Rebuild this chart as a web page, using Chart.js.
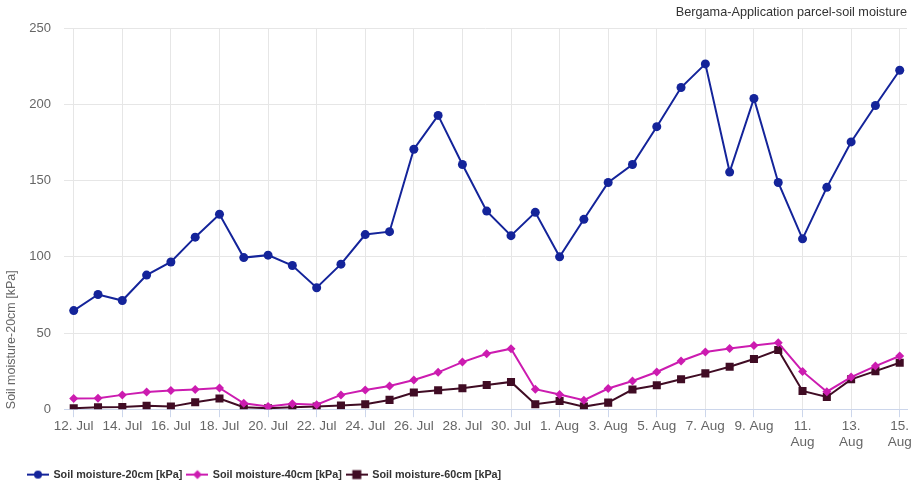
<!DOCTYPE html>
<html>
<head>
<meta charset="utf-8">
<script src="https://cdn.jsdelivr.net/npm/chart.js@4.4.0/dist/chart.umd.min.js"></script>
<style>
  html, body { margin: 0; padding: 0; background: #fff; }
  #wrap { width: 919px; height: 488px; }
</style>
</head>
<body>
<div id="wrap"><canvas id="chart" width="919" height="488"></canvas></div>
<script>
const days = [
  "12. Jul", "13. Jul", "14. Jul", "15. Jul", "16. Jul", "17. Jul", "18. Jul",
  "19. Jul", "20. Jul", "21. Jul", "22. Jul", "23. Jul", "24. Jul", "25. Jul",
  "26. Jul", "27. Jul", "28. Jul", "29. Jul", "30. Jul", "31. Jul",
  "1. Aug", "2. Aug", "3. Aug", "4. Aug", "5. Aug", "6. Aug", "7. Aug",
  "8. Aug", "9. Aug", "10. Aug", "11. Aug", "12. Aug", "13. Aug", "14. Aug", "15. Aug",
];

const moist20 = [64.7, 75.3, 71.3, 88, 96.6, 112.9, 127.9, 99.5, 101.1, 94.3, 79.7, 95.2,
  114.6, 116.5, 170.6, 192.8, 160.6, 130, 113.9, 129.2, 100, 124.6, 148.8, 160.6, 185.4,
  211.1, 226.6, 155.6, 203.9, 148.8, 111.8, 145.6, 175.4, 199.3, 222.4];
const moist40 = [7, 7.2, 9.4, 11.3, 12.2, 12.9, 13.9, 3.9, 1.7, 3.5, 3, 9.4, 12.6, 15.2,
  19.2, 24.2, 30.9, 36.4, 39.7, 13.1, 9.6, 5.9, 13.6, 18.5, 24.4, 31.6, 37.5, 39.9, 41.8,
  43.6, 24.8, 11.5, 21.1, 28.3, 34.9];
const moist60 = [0.6, 1.3, 1.5, 2.2, 1.7, 4.6, 7, 1.3, 0.6, 1.3, 1.7, 2.4, 3.3, 6.1, 10.9,
  12.4, 13.7, 15.9, 17.9, 3.3, 5.4, 1.7, 4.3, 12.9, 15.7, 19.6, 23.5, 27.9, 32.9, 38.8,
  12, 8, 19.6, 25, 30.5];

const yTicks = [0, 50, 100, 150, 200, 250];

const seriesNames = ["Soil moisture-20cm [kPa]", "Soil moisture-40cm [kPa]", "Soil moisture-60cm [kPa]"];
const colors = ["#14249a", "#cc1cb0", "#400c24"];
const styles = ["circle", "rectRot", "rect"];

const toPoints = (arr) => arr.map((v, i) => ({ x: i, y: v }));

// legend symbol: short line with the marker in the middle
function legendSymbol(color, style) {
  const c = document.createElement("canvas");
  c.width = 22;
  c.height = 12;
  const g = c.getContext("2d");
  g.strokeStyle = color;
  g.fillStyle = color;
  g.lineWidth = 2;
  g.beginPath();
  g.moveTo(0, 6);
  g.lineTo(22, 6);
  g.stroke();
  g.beginPath();
  if (style === "circle") {
    g.arc(11, 6, 4, 0, Math.PI * 2);
  } else if (style === "rectRot") {
    g.moveTo(11, 1.5);
    g.lineTo(15.5, 6);
    g.lineTo(11, 10.5);
    g.lineTo(6.5, 6);
    g.closePath();
  } else {
    g.rect(6.5, 1.5, 9, 9);
  }
  g.fill();
  return c;
}
const symbols = colors.map((c, i) => legendSymbol(c, styles[i]));

const legendShift = {
  id: "legendShift",
  afterLayout(chart) {
    chart.legend.left += 23;
  },
};

Chart.defaults.font.family = "'Liberation Sans', Arial, sans-serif";
Chart.defaults.color = "#666";

const ctx = document.getElementById("chart").getContext("2d");
new Chart(ctx, {
  type: "line",
  data: {
    datasets: [moist20, moist40, moist60].map((arr, i) => ({
      label: seriesNames[i],
      data: toPoints(arr),
      borderColor: colors[i],
      backgroundColor: colors[i],
      borderWidth: 2,
      pointStyle: styles[i],
      pointRadius: [4.5, 4.5, 5.7][i],
      pointBorderWidth: 0,
      tension: 0,
    })),
  },
  plugins: [legendShift],
  options: {
    responsive: false,
    animation: false,
    layout: { padding: { left: 0, right: 12, top: 0, bottom: -2 } },
    scales: {
      x: {
        type: "linear",
        min: -0.4,
        max: 34.3,
        afterBuildTicks: (s) => {
          s.ticks = days.map((d, i) => ({ value: i })).filter((t) => t.value % 2 === 0);
        },
        afterFit: (s) => { s.height = 55; },
        ticks: {
          autoSkip: false,
          maxRotation: 0,
          padding: 1,
          color: "#666",
          font: { size: 13.5 },
          callback: (v) => (v >= 30 ? days[v].split(" ") : days[v]),
        },
        grid: { color: "#e6e6e6", tickColor: "#ccd6eb", tickLength: 8 },
        border: { color: "#ccd6eb", width: 1 },
      },
      y: {
        min: 0,
        max: 250,
        afterBuildTicks: (s) => { s.ticks = yTicks.map((v) => ({ value: v })); },
        afterFit: (s) => { s.width = 64; },
        ticks: { padding: 13, color: "#666", font: { size: 13 } },
        grid: { color: "#e6e6e6", drawTicks: false },
        border: { display: false },
        title: {
          display: true,
          text: "Soil moisture-20cm [kPa]",
          align: "start",
          color: "#666",
          font: { size: 12.5 },
          padding: { top: 4, bottom: 0 },
        },
      },
    },
    plugins: {
      title: {
        display: true,
        text: "Bergama-Application parcel-soil moisture",
        align: "end",
        color: "#333",
        font: { size: 12.7, weight: "normal" },
        padding: { top: 5, bottom: 8 },
      },
      legend: {
        position: "bottom",
        align: "start",
        labels: {
          usePointStyle: true,
          pointStyleWidth: 20,
          padding: 5,
          color: "#333",
          font: { size: 10.8, weight: "bold" },
          generateLabels: (chart) =>
            Chart.defaults.plugins.legend.labels.generateLabels(chart).map((l, i) => ({
              ...l,
              pointStyle: symbols[i],
            })),
        },
      },
      tooltip: { enabled: false },
    },
  },
});
</script>
</body>
</html>
